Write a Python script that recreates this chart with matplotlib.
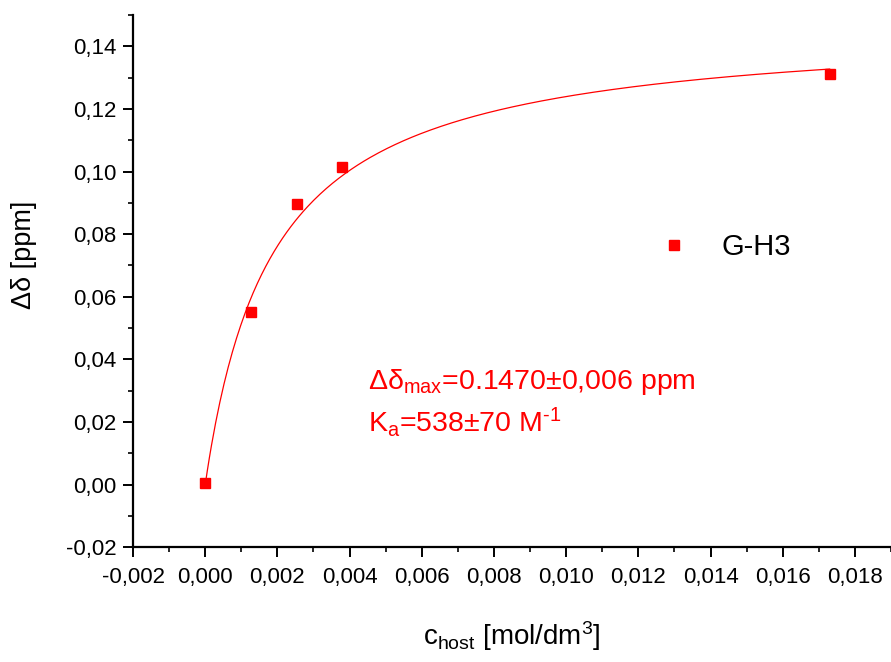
import numpy as np
import matplotlib

matplotlib.use("Agg")

import matplotlib.pyplot as plt
from matplotlib.ticker import MultipleLocator, FuncFormatter

plt.rcParams["font.family"] = ["Liberation Sans", "DejaVu Sans"]
plt.rcParams["mathtext.fontset"] = "custom"
plt.rcParams["mathtext.rm"] = "Liberation Sans"
plt.rcParams["mathtext.it"] = "Liberation Sans"
plt.rcParams["mathtext.default"] = "regular"

# punkty pomiarowe
c_host = [0.0, 0.00128, 0.00253, 0.0038, 0.0173]
d_delta = [0.0004, 0.0553, 0.0895, 0.1016, 0.1313]

# parametry dopasowania (z opisu na wykresie)
dd_max = 0.1470
k_a = 538.0

series_label = "G-H3"

# krzywa dopasowania 1:1
c_fit = np.linspace(c_host[0], c_host[-1], 300)
d_fit = dd_max * k_a * c_fit / (1 + k_a * c_fit)

fig = plt.figure(figsize=(8.91, 6.62), dpi=100)
ax = fig.add_axes([0.1493, 0.1733, 0.8507, 0.804])

red = "#ff0000"
ax.plot(c_fit, d_fit, color=red, lw=0.9)
ax.plot(c_host, d_delta, "s", color=red, ms=7, label=series_label)

ax.set_xlim(-0.002, 0.019)
ax.set_ylim(-0.02, 0.15)

ax.xaxis.set_major_locator(MultipleLocator(0.002))
ax.xaxis.set_minor_locator(MultipleLocator(0.001))
ax.yaxis.set_major_locator(MultipleLocator(0.02))
ax.yaxis.set_minor_locator(MultipleLocator(0.01))

ax.xaxis.set_major_formatter(FuncFormatter(lambda v, p: f"{v:.3f}".replace(".", ",")))
ax.yaxis.set_major_formatter(FuncFormatter(lambda v, p: f"{v:.2f}".replace(".", ",")))

for s in ("top", "right"):
    ax.spines[s].set_visible(False)
for s in ("left", "bottom"):
    ax.spines[s].set_linewidth(1.6)

ax.tick_params(which="major", direction="out", length=7, width=1.4, labelsize=16)
ax.tick_params(which="minor", direction="out", length=3.6, width=1.2)
ax.tick_params(axis="x", pad=7)
ax.tick_params(axis="y", pad=5)

ax.set_xlabel("c$_{host}$ [mol/dm$^{3}$]", fontsize=20)
ax.xaxis.set_label_coords(0.5, -0.135)
ax.set_ylabel("Δδ [ppm]", fontsize=19.5, va="center")
ax.yaxis.set_label_coords(-0.144, 0.549)

ax.text(0.0045, 0.0305, "Δδ$_{max}$=0.1470±0,006 ppm", color=red, fontsize=20.5)
ax.text(0.0045, 0.017, r"K$_a$=538±70 M$^{\text{-1}}$", color=red, fontsize=20.5)

ax.legend(loc="center left", bbox_to_anchor=(0.695, 0.564), frameon=False,
          fontsize=21, handlelength=1.0, handletextpad=1.1, borderpad=0,
          borderaxespad=0)

fig.savefig("out.png", dpi=100)
plt.close(fig)
